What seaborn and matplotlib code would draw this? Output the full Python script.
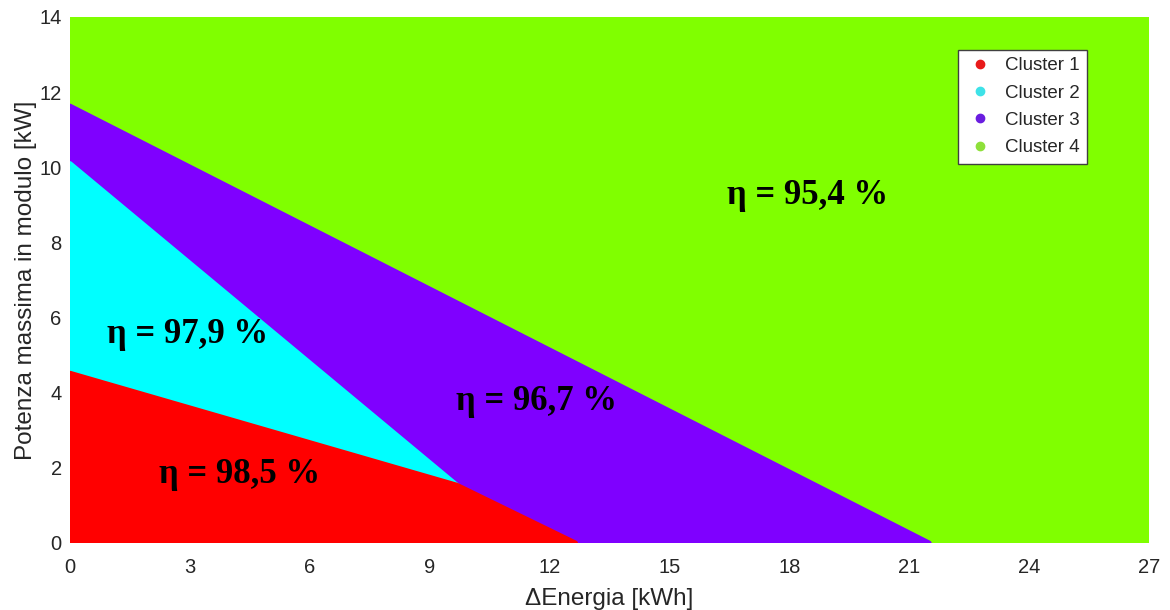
"""
Mappa dei cluster: rendimento eta in funzione di DeltaEnergia e potenza massima.
Salva out.png (1170x610).
"""
import matplotlib
matplotlib.use("Agg")
import matplotlib.pyplot as plt
from matplotlib.lines import Line2D
import pandas as pd
import seaborn as sns

# Vertici delle regioni (x = DeltaEnergia [kWh], y = potenza [kW])
cluster_names = ["Cluster 1", "Cluster 2", "Cluster 3", "Cluster 4"]
cluster_colors = ["#ff0000", "#00ffff", "#7f00ff", "#80ff00"]
legend_colors = ["#e81a1a", "#3ee2e8", "#6a1de0", "#8ee03a"]

c4_x = [0, 27, 27, 0]
c4_y = [0, 0, 14, 14]
c3_x = [0, 21.5, 12.65, 9.68, 0]
c3_y = [11.63, 0, 0, 1.54, 10.1]
c2_x = [0, 9.68, 0]
c2_y = [10.1, 1.54, 4.52]
c1_x = [0, 0, 9.68, 12.65]
c1_y = [0, 4.52, 1.54, 0]

eta_labels = ["η = 98,5 %", "η = 97,9 %", "η = 96,7 %", "η = 95,4 %"]
eta_x = [4.25, 2.95, 11.68, 18.45]
eta_y = [1.83, 5.55, 3.77, 9.25]

x_ticks = [0, 3, 6, 9, 12, 15, 18, 21, 24, 27]
y_ticks = [0, 2, 4, 6, 8, 10, 12, 14]

polys = pd.DataFrame({
    "cluster": cluster_names,
    "x": [c1_x, c2_x, c3_x, c4_x],
    "y": [c1_y, c2_y, c3_y, c4_y],
    "color": cluster_colors,
})

sns.set_style("white")
plt.rcParams["font.family"] = ["Liberation Sans", "DejaVu Sans"]

fig = plt.figure(figsize=(11.7, 6.1), dpi=100)
ax = fig.add_axes([70 / 1170, 67 / 610, 1079 / 1170, 526 / 610])

# disegno dal fondo (cluster 4) verso l'alto
for _, row in polys.iloc[::-1].iterrows():
    ax.fill(row["x"], row["y"], color=row["color"], lw=3.5,
            ec=row["color"], joinstyle="round", zorder=1)

for txt, x, y in zip(eta_labels, eta_x, eta_y):
    ax.text(x, y, txt, ha="center", va="center", fontsize=25,
            fontweight="bold", family=["Liberation Serif", "DejaVu Serif"],
            color="black", zorder=3)

ax.set_xlim(0, 27)
ax.set_ylim(0, 14)
ax.set_xticks(x_ticks)
ax.set_yticks(y_ticks)
ax.tick_params(axis="both", length=0, labelsize=14.5, colors="#262626")
ax.tick_params(axis="x", pad=11)
ax.tick_params(axis="y", pad=6)
sns.despine(ax=ax, left=True, bottom=True)
ax.set_xlabel("ΔEnergia [kWh]", fontsize=17.5, color="#262626", labelpad=8)
ax.set_ylabel("Potenza massima in modulo [kW]", fontsize=17.5,
              color="#262626", labelpad=2)

handles = [Line2D([], [], ls="", marker="o", ms=6, mfc=c, mec=c)
           for c in legend_colors]
leg = ax.legend(handles, cluster_names, loc="upper right",
                bbox_to_anchor=(0.951, 0.956), fontsize=13.5, frameon=True,
                fancybox=False, edgecolor="#404040", framealpha=1,
                handletextpad=0.5, handlelength=1.6, borderpad=0.4,
                labelspacing=0.55)
leg.get_frame().set_linewidth(1.0)

fig.savefig("out.png", dpi=100)
